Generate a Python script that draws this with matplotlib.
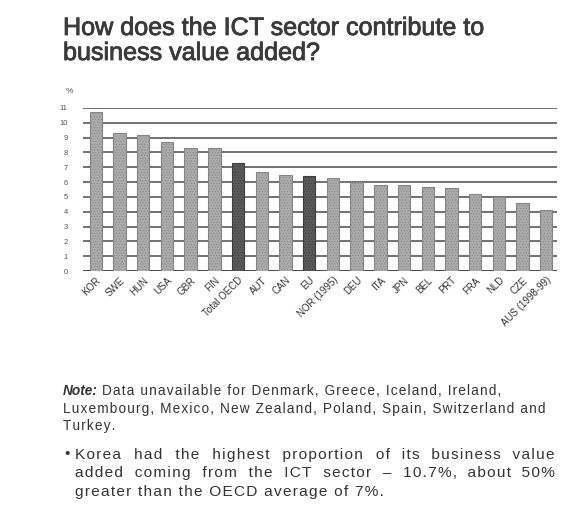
import matplotlib.pyplot as plt
import matplotlib.patheffects as pe

plt.rcParams["font.family"] = ["Liberation Sans", "DejaVu Sans"]
plt.rcParams["hatch.color"] = "#8c8c8c"
plt.rcParams["hatch.linewidth"] = 0.4

countries = ["KOR", "SWE", "HUN", "USA", "GBR", "FIN", "Total OECD", "AUT", "CAN", "EU",
             "NOR (1995)", "DEU", "ITA", "JPN", "BEL", "PRT", "FRA", "NLD", "CZE", "AUS (1998-99)"]
ict_share = [10.7, 9.3, 9.2, 8.7, 8.3, 8.3, 7.3, 6.7, 6.5, 6.4,
             6.3, 6.0, 5.8, 5.8, 5.7, 5.6, 5.2, 5.0, 4.6, 4.1]
aggregates = ["Total OECD", "EU"]
yticks = list(range(0, 12))

title_lines = ["How does the ICT sector contribute to", "business value added?"]
note_lines = [
    "Data unavailable for Denmark, Greece, Iceland, Ireland,",
    "Luxembourg, Mexico, New Zealand, Poland, Spain, Switzerland and",
    "Turkey.",
]
bullet_lines = [
    "Korea had the highest proportion of its business value",
    "added coming from the ICT sector \u2013 10.7%, about 50%",
    "greater than the OECD average of 7%.",
]

W, H = 587, 532
fig = plt.figure(figsize=(W / 100, H / 100), dpi=100)
fig.patch.set_facecolor("white")
TXT = "#333333"
HAIR = "\u200a"


def fx(px):
    return px / W


def fy(py):
    return 1 - py / H


ax = fig.add_axes([fx(83), fy(271), fx(557) - fx(83), fy(108) - fy(271)])
ax.set_xlim(-0.54, 19.45)
ax.set_ylim(0, 11)

for y in yticks:
    ax.axhline(y, color="#4a4a4a", lw=1.1 if y else 1.4, zorder=1)

colors = ["#5a5a5a" if c in aggregates else "#ababab" for c in countries]
edges = ["#3e3e3e" if c in aggregates else "#858585" for c in countries]
xs = range(len(countries))
ax.bar(xs, ict_share, width=0.52, color=colors, edgecolor=edges, linewidth=0.8,
       hatch="......", zorder=3)

for s in ax.spines.values():
    s.set_visible(False)
ax.set_yticks(yticks)
ax.set_yticklabels([str(t) for t in yticks], fontsize=5.5, color="#555555")
ax.tick_params(axis="y", length=0, pad=11)
ax.set_xticks(list(xs))
ax.set_xticklabels(countries, rotation=45, ha="right", va="top",
                   rotation_mode="anchor", fontsize=7, color=TXT)
ax.tick_params(axis="x", length=0, pad=3)
fig.text(fx(66), fy(92), "%", fontsize=6, color="#555555", va="center")

fig.canvas.draw()
renderer = fig.canvas.get_renderer()


def text_width(s, **kw):
    t = fig.text(0, 0, s, **kw)
    w = t.get_window_extent(renderer).width
    t.remove()
    return w


def spread(line, n):
    # letter-spacing: n hair spaces between every pair of characters
    return (HAIR * n).join(line)


def fit_size(line, n, target, size, **kw):
    for _ in range(4):
        size *= target / text_width(spread(line, n), fontsize=size, **kw)
    return size


def justify(line, n, target, **kw):
    hw = (text_width("a" + HAIR * 10 + "a", **kw) - text_width("aa", **kw)) / 10
    words = [spread(w, n) for w in line.split(" ")]
    gap = HAIR * n + " " + HAIR * n
    slack = int(round((target - text_width(gap.join(words), **kw)) / hw))
    gaps = len(words) - 1
    out = words[0]
    for i, w in enumerate(words[1:]):
        k = slack // gaps + (1 if i < slack % gaps else 0)
        out += gap + HAIR * max(k, 0) + w
    return out


# title, slightly emboldened regular weight
title_size = fit_size(title_lines[0], 0, 420, 16, color="#3a3a3a")
for i, line in enumerate(title_lines):
    fig.text(fx(63), fy(35 + i * 25), line, va="baseline", fontsize=title_size,
             color="#3a3a3a",
             path_effects=[pe.withStroke(linewidth=0.6, foreground="#3a3a3a")])

# note block, with the bold-italic lead-in
n_note = 1
note_kw = dict(color=TXT)
note_kw["fontsize"] = fit_size(note_lines[1], n_note, 485, 10, **note_kw)
lead = fig.text(fx(63), fy(395), "Note:", fontweight="bold", fontstyle="italic",
                va="baseline", **note_kw)
lead_w = lead.get_window_extent(renderer).width
for i, line in enumerate(note_lines):
    x0 = 63 + (lead_w + 4 if i == 0 else 0)
    fig.text(fx(x0), fy(395 + i * 17.5), spread(line, n_note), va="baseline", **note_kw)

# bullet point, justified to the column width
n_bul = 1
bullet_kw = dict(color=TXT)
bullet_kw["fontsize"] = fit_size(bullet_lines[2], n_bul, 308, 10.5, **bullet_kw)
fig.text(fx(64), fy(458), "\u2022", va="baseline", **bullet_kw)
for i, line in enumerate(bullet_lines):
    yb = 459 + i * 18.5
    if i < len(bullet_lines) - 1:
        s = justify(line, n_bul, 480, **bullet_kw)
    else:
        s = spread(line, n_bul)
    fig.text(fx(75), fy(yb), s, va="baseline", **bullet_kw)

fig.savefig("out.png", dpi=100)
